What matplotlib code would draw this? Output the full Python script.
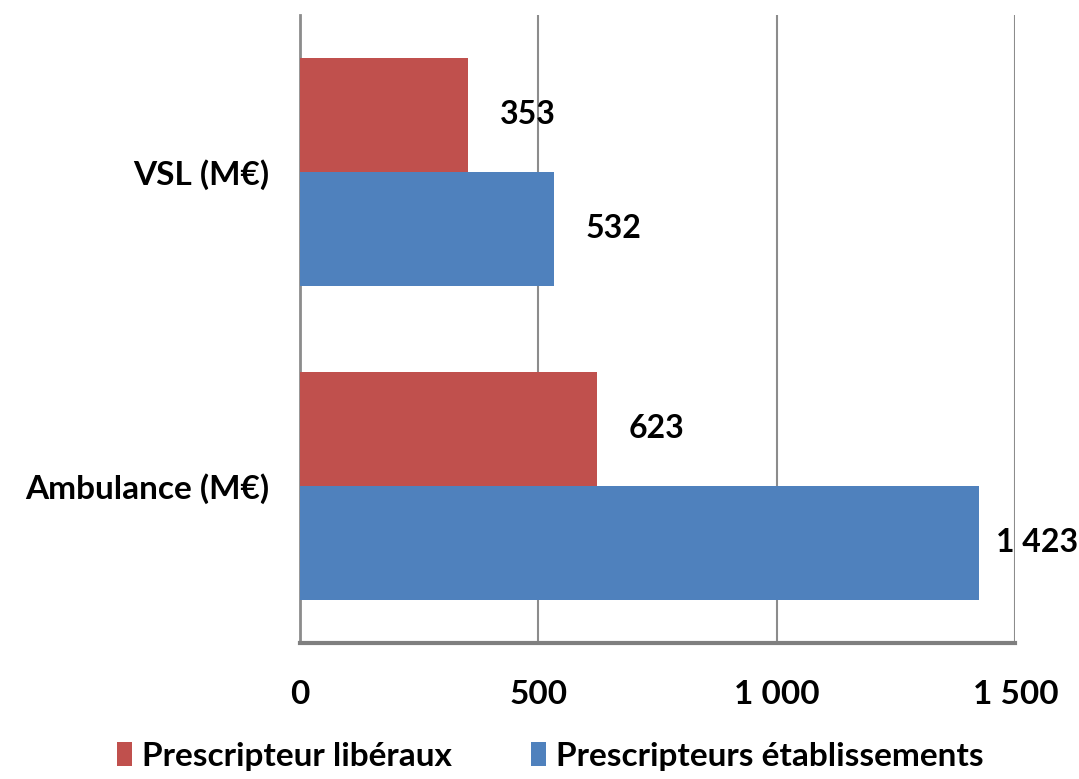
import numpy as np
import matplotlib.pyplot as plt

plt.rcParams['font.family'] = ['Lato', 'DejaVu Sans']
plt.rcParams['font.weight'] = 'bold'

categories = ['Ambulance (M€)', 'VSL (M€)']
liberaux = [623, 353]
etablissements = [1423, 532]
series_names = ['Prescripteur libéraux', 'Prescripteurs établissements']
colors = ['#C0504D', '#4F81BD']
xticks = [0, 500, 1000, 1500]
xtick_labels = ['0', '500', '1 000', '1 500']

fig = plt.figure(figsize=(10.79, 7.79), dpi=100)
ax = fig.add_axes([0.278, 0.175, 0.663, 0.806])

y = np.arange(len(categories))
h = 0.363
b1 = ax.barh(y + h / 2, liberaux, height=h, color=colors[0], label=series_names[0], zorder=3)
b2 = ax.barh(y - h / 2, etablissements, height=h, color=colors[1], label=series_names[1], zorder=3)

def fmt(v):
    return f'{v:,}'.replace(',', ' ')

# étiquettes de valeurs à droite des barres
for bars, vals in [(b1, liberaux), (b2, etablissements)]:
    for bar, v in zip(bars, vals):
        dx = 17 if v > 1000 else 32
        ax.annotate(fmt(v), (v, bar.get_y() + bar.get_height() / 2),
                    xytext=(dx * 0.72, 0), textcoords='offset points',
                    ha='left', va='center', fontsize=23, fontweight='bold')

ax.set_xlim(0, 1500)
ax.set_ylim(-0.5, 1.5)
ax.set_xticks(xticks)
ax.set_xticklabels(xtick_labels)
ax.set_yticks(y)
ax.set_yticklabels(categories)
ax.tick_params(axis='x', length=0, pad=27, labelsize=24)
ax.tick_params(axis='y', length=0, pad=22, labelsize=24)
ax.xaxis.grid(True, color='#8c8c8c', linewidth=1.5, zorder=0)

for s in ['top', 'right']:
    ax.spines[s].set_visible(False)
ax.spines['left'].set_color('#8c8c8c')
ax.spines['left'].set_linewidth(2)
ax.spines['bottom'].set_color('#7f7f7f')
ax.spines['bottom'].set_linewidth(3)

fig.legend(loc='lower center', bbox_to_anchor=(0.51, -0.028), ncol=2, frameon=False,
           fontsize=24, handlelength=0.45, handleheight=0.75, handletextpad=0.3,
           columnspacing=2.4)

fig.savefig('out.png', dpi=100)
